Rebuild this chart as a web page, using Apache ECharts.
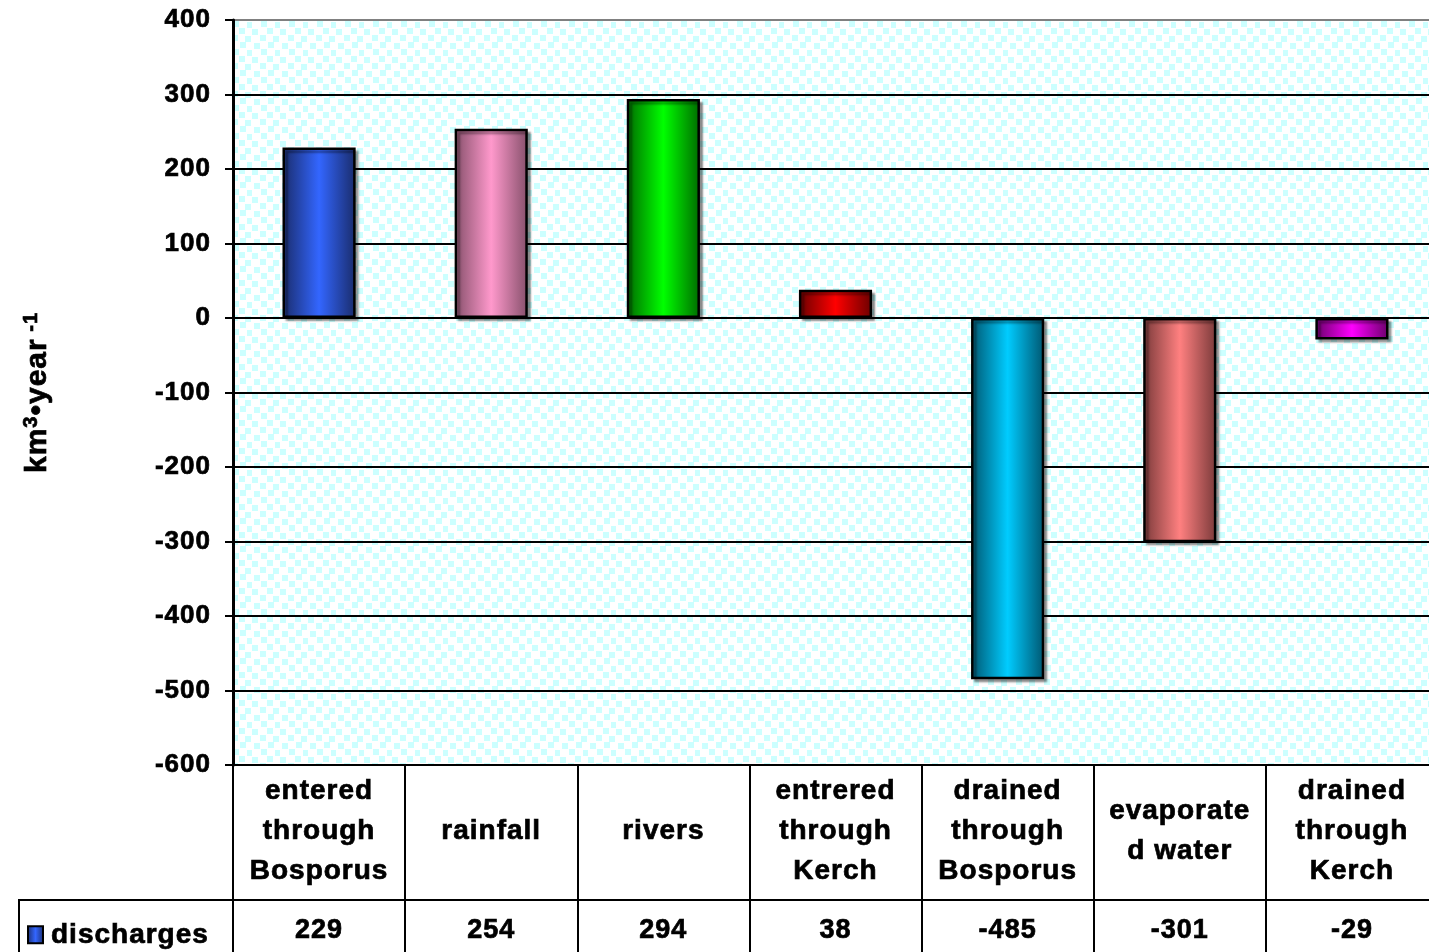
<!DOCTYPE html>
<html>
<head>
<meta charset="utf-8">
<script src="https://cdn.jsdelivr.net/npm/echarts@6/dist/echarts.min.js"></script>
<style>
  html, body { margin: 0; padding: 0; background: #fff; }
  #chart { width: 1429px; height: 952px; }
</style>
</head>
<body>
<div id="chart"></div>
<script>
// Black Sea water balance, km3 per year
const categories = [
  'entered\nthrough\nBosporus',
  'rainfall',
  'rivers',
  'entrered\nthrough\nKerch',
  'drained\nthrough\nBosporus',
  'evaporate\nd water',
  'drained\nthrough\nKerch'
];
const discharges = [229, 254, 294, 38, -485, -301, -29];
const seriesName = 'discharges';
const yMin = -600, yMax = 400, yStep = 100;

// [edge shade, centre highlight] for each bar
const barShades = [
  ['#1a2c6b', '#3366ff'],
  ['#86506b', '#ff99cc'],
  ['#006b00', '#00ff00'],
  ['#6b0000', '#ff0000'],
  ['#005670', '#00ccff'],
  ['#7a3a3a', '#ff8080'],
  ['#6b006b', '#ff00ff']
];

// Slightly wider tracking for all canvas text
(function () {
  const P = CanvasRenderingContext2D.prototype;
  const fill = P.fillText, stroke = P.strokeText, measure = P.measureText;
  P.fillText = function () { this.letterSpacing = '1px'; return fill.apply(this, arguments); };
  P.strokeText = function () { this.letterSpacing = '1px'; return stroke.apply(this, arguments); };
  P.measureText = function () { this.letterSpacing = '1px'; return measure.apply(this, arguments); };
})();

function cylinder(pair) {
  return new echarts.graphic.LinearGradient(0, 0, 1, 0, [
    { offset: 0, color: pair[0] },
    { offset: 0.5, color: pair[1] },
    { offset: 1, color: pair[0] }
  ]);
}

// confetti fill for the plot area
function confettiTile() {
  const c = document.createElement('canvas');
  c.width = 28; c.height = 28;
  const g = c.getContext('2d');
  g.fillStyle = '#ffffff';
  g.fillRect(0, 0, 28, 28);
  g.fillStyle = '#ccffff';
  [[0, 1], [15, 0], [8, 7], [21, 8], [2, 15], [16, 14], [9, 21], [23, 22]]
    .forEach(p => g.fillRect(p[0], p[1], 6, 6));
  return c;
}

const font = 'Liberation Sans, Arial, sans-serif';
// heavy bold text, as in the table
const heavy = { fontFamily: font, fontWeight: 'bold', color: '#000', textBorderColor: '#000', textBorderWidth: 0.7 };
const splitColors = [];
for (let v = yMin; v <= yMax; v += yStep) splitColors.push(v === yMax ? '#808080' : '#000000');

const chart = echarts.init(document.getElementById('chart'), null, { renderer: 'canvas' });
chart.setOption({
  animation: false,
  textStyle: { fontFamily: font, fontWeight: 'bold', color: '#000' },
  grid: {
    left: 233, top: 20, width: 1205, bottom: 187,
    outerBoundsMode: 'none',
    containLabel: false,
    show: true,
    backgroundColor: { image: confettiTile(), repeat: 'repeat' },
    borderWidth: 0
  },
  legend: {
    data: [seriesName],
    left: 22, top: 915,
    icon: 'rect',
    itemWidth: 15, itemHeight: 17,
    itemStyle: { borderColor: '#000', borderWidth: 2 },
    textStyle: Object.assign({ fontSize: 28, padding: [0, 0, 0, 3] }, heavy)
  },
  xAxis: [
    {
      type: 'category',
      data: categories,
      position: 'bottom',
      axisLine: { onZero: false, lineStyle: { color: '#000', width: 2 } },
      axisTick: { show: true, length: 190, lineStyle: { color: '#000', width: 2 } },
      axisLabel: Object.assign({
        interval: 0, margin: 66, verticalAlign: 'middle', lineHeight: 40, fontSize: 28
      }, heavy),
      splitLine: { show: false }
    },
    {
      type: 'category',
      data: discharges.map(String),
      position: 'bottom',
      offset: 135,
      axisLine: { show: true, onZero: false, lineStyle: { color: '#000', width: 2 } },
      axisTick: { show: false },
      axisLabel: Object.assign({ interval: 0, margin: 31, verticalAlign: 'middle', fontSize: 27 }, heavy),
      splitLine: { show: false }
    }
  ],
  yAxis: {
    type: 'value',
    min: yMin, max: yMax, interval: yStep,
    name: '{b|km}{s|3}{b|•year}{s| -1}',
    nameLocation: 'middle',
    nameGap: 178,
    nameTextStyle: {
      rich: {
        b: Object.assign({ fontSize: 30, lineHeight: 34 }, heavy),
        s: Object.assign({ fontSize: 20, verticalAlign: 'top', lineHeight: 34 }, heavy)
      }
    },
    axisLine: { show: true, lineStyle: { color: '#000', width: 3 } },
    axisTick: { show: true, length: 8, lineStyle: { color: '#000', width: 2 } },
    axisLabel: Object.assign({ margin: 22, fontSize: 26 }, heavy),
    splitLine: { show: true, lineStyle: { color: splitColors, width: 2 } }
  },
  series: [{
    type: 'bar',
    name: seriesName,
    xAxisIndex: 0,
    barWidth: '42.5%',
    itemStyle: {
      color: cylinder(barShades[0]),
      borderColor: '#000',
      borderWidth: 2.5,
      shadowColor: 'rgba(0,0,0,0.35)',
      shadowBlur: 2,
      shadowOffsetX: 3,
      shadowOffsetY: 3
    },
    data: discharges.map((v, i) => ({ value: v, itemStyle: { color: cylinder(barShades[i]) } }))
  }],
  graphic: [
    { type: 'line', shape: { x1: 18, y1: 900, x2: 233, y2: 900 }, style: { stroke: '#000', lineWidth: 2 } },
    { type: 'line', shape: { x1: 19, y1: 900, x2: 19, y2: 960 }, style: { stroke: '#000', lineWidth: 2 } }
  ]
});
</script>
</body>
</html>
